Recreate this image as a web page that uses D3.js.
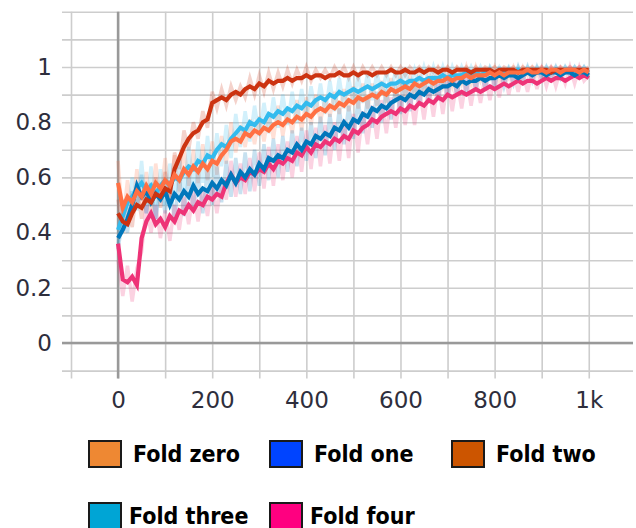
<!DOCTYPE html>
<html>
<head>
<meta charset="utf-8">
<script src="https://cdn.jsdelivr.net/npm/d3@7"></script>
<style>
  body { margin: 0; background: #fff; }
  svg { display: block; }
  .labels text { font-family: "DejaVu Sans", sans-serif; font-size: 23px; fill: #2e2e3c; }
  .legend text { font-family: "DejaVu Sans Condensed", "DejaVu Sans", sans-serif; font-stretch: condensed; font-weight: bold; font-size: 23px; fill: #000; }
</style>
</head>
<body>
<div id="container"></div>
<script>
// pasos de entrenamiento (cada 10)
const steps = d3.range(0, 1001, 10);

const xTicks = [0, 200, 400, 600, 800, 1000];
const yTicks = [0, 0.2, 0.4, 0.6, 0.8, 1];

const foldNames = ["Fold zero", "Fold one", "Fold two", "Fold three", "Fold four"];
const lineColors = ["#ff7043", "#0077bb", "#cc3311", "#33bbee", "#ee3377"];
const swatchColors = ["#ee8833", "#0044ff", "#cc5500", "#00a5d5", "#ff0080"];

// curvas suavizadas
const zeroSmooth = [
  0.58, 0.49, 0.53, 0.51, 0.55, 0.53, 0.57, 0.54, 0.58, 0.56,
  0.59, 0.57, 0.61, 0.59, 0.63, 0.61, 0.64, 0.62, 0.65, 0.63,
  0.66, 0.65, 0.68, 0.70, 0.73, 0.74, 0.73, 0.76, 0.75, 0.77,
  0.76, 0.78, 0.77, 0.79, 0.80, 0.79, 0.81, 0.80, 0.82, 0.81,
  0.83, 0.82, 0.84, 0.85, 0.84, 0.86, 0.85, 0.87, 0.86, 0.88,
  0.87, 0.89, 0.88, 0.89, 0.90, 0.89, 0.91, 0.90, 0.92, 0.91,
  0.92, 0.93, 0.92, 0.94, 0.93, 0.94, 0.95, 0.94, 0.95, 0.95,
  0.96, 0.95, 0.96, 0.96, 0.97, 0.96, 0.97, 0.97, 0.97, 0.98,
  0.97, 0.98, 0.97, 0.98, 0.98, 0.98, 0.98, 0.99, 0.98, 0.98,
  0.99, 0.98, 0.99, 0.99, 0.98, 0.99, 0.99, 0.99, 0.98, 0.99,
  0.98
];
const oneSmooth = [
  0.38, 0.41, 0.45, 0.50, 0.57, 0.53, 0.55, 0.51, 0.54, 0.52,
  0.55, 0.50, 0.54, 0.52, 0.55, 0.53, 0.57, 0.54, 0.56, 0.55,
  0.58, 0.56, 0.59, 0.57, 0.61, 0.58, 0.62, 0.60, 0.63, 0.61,
  0.65, 0.63, 0.67, 0.66, 0.68, 0.67, 0.70, 0.69, 0.72, 0.70,
  0.73, 0.72, 0.75, 0.74, 0.76, 0.75, 0.78, 0.77, 0.80, 0.78,
  0.81, 0.80, 0.83, 0.82, 0.85, 0.84, 0.86, 0.85, 0.87, 0.88,
  0.89, 0.88, 0.90, 0.89, 0.91, 0.90, 0.92, 0.91, 0.92, 0.93,
  0.93, 0.94, 0.93, 0.95, 0.94, 0.95, 0.95, 0.96, 0.95, 0.96,
  0.96, 0.97, 0.96, 0.97, 0.97, 0.96, 0.97, 0.98, 0.97, 0.98,
  0.98, 0.97, 0.98, 0.98, 0.97, 0.98, 0.98, 0.97, 0.98, 0.98,
  0.97
];
const twoSmooth = [
  0.47, 0.44, 0.43, 0.47, 0.50, 0.49, 0.52, 0.51, 0.54, 0.53,
  0.56, 0.55, 0.63, 0.67, 0.71, 0.74, 0.76, 0.77, 0.80, 0.81,
  0.87, 0.88, 0.89, 0.88, 0.90, 0.91, 0.90, 0.92, 0.93, 0.92,
  0.94, 0.93, 0.95, 0.94, 0.95, 0.95, 0.96, 0.95, 0.96, 0.96,
  0.97, 0.96, 0.97, 0.97, 0.96, 0.97, 0.97, 0.98, 0.97, 0.97,
  0.98, 0.97, 0.98, 0.98, 0.97, 0.98, 0.98, 0.98, 0.99, 0.98,
  0.98, 0.99, 0.98, 0.98, 0.99, 0.98, 0.99, 0.99, 0.98, 0.99,
  0.99, 0.98, 0.99, 0.99, 0.99, 0.98, 0.99, 0.99, 0.99, 0.99,
  0.98, 0.99, 0.99, 0.99, 0.99, 0.98, 0.99, 0.99, 0.99, 0.99,
  0.99, 0.99, 0.98, 0.99, 0.99, 0.99, 0.99, 0.99, 0.99, 0.99,
  0.99
];
const threeSmooth = [
  0.41, 0.46, 0.51, 0.53, 0.56, 0.58, 0.55, 0.57, 0.54, 0.57,
  0.59, 0.57, 0.60, 0.59, 0.62, 0.64, 0.63, 0.66, 0.65, 0.68,
  0.67, 0.70, 0.72, 0.71, 0.74, 0.76, 0.78, 0.77, 0.80, 0.79,
  0.81, 0.80, 0.83, 0.82, 0.84, 0.83, 0.85, 0.84, 0.86, 0.85,
  0.87, 0.86, 0.88, 0.89, 0.88, 0.90, 0.89, 0.91, 0.90, 0.91,
  0.92, 0.91, 0.92, 0.93, 0.92, 0.93, 0.94, 0.93, 0.94, 0.94,
  0.95, 0.94, 0.95, 0.95, 0.96, 0.95, 0.96, 0.96, 0.96, 0.97,
  0.96, 0.97, 0.97, 0.97, 0.98, 0.97, 0.98, 0.97, 0.98, 0.98,
  0.98, 0.97, 0.98, 0.98, 0.98, 0.99, 0.98, 0.98, 0.99, 0.98,
  0.99, 0.98, 0.98, 0.99, 0.98, 0.99, 0.99, 0.98, 0.99, 0.99,
  0.98
];
const fourSmooth = [
  0.36, 0.23, 0.22, 0.24, 0.21, 0.38, 0.44, 0.47, 0.43, 0.45,
  0.42, 0.46, 0.44, 0.48, 0.47, 0.50, 0.48, 0.51, 0.50, 0.53,
  0.52, 0.54, 0.53, 0.58, 0.61, 0.58, 0.60, 0.59, 0.62, 0.61,
  0.63, 0.62, 0.65, 0.63, 0.66, 0.65, 0.67, 0.66, 0.69, 0.68,
  0.71, 0.69, 0.72, 0.71, 0.73, 0.72, 0.74, 0.73, 0.75, 0.74,
  0.77, 0.76, 0.78, 0.79, 0.81, 0.80, 0.82, 0.83, 0.84, 0.83,
  0.85, 0.84, 0.86, 0.85, 0.87, 0.86, 0.88, 0.87, 0.89, 0.88,
  0.90, 0.89, 0.90, 0.91, 0.90, 0.91, 0.92, 0.91, 0.92, 0.93,
  0.92, 0.93, 0.94, 0.93, 0.94, 0.95, 0.94, 0.95, 0.95, 0.94,
  0.95, 0.96, 0.95, 0.96, 0.96, 0.95, 0.96, 0.97, 0.96, 0.97,
  0.96
];

// valores crudos (trazo tenue)
const zeroRaw = [
  0.66, 0.44, 0.59, 0.47, 0.63, 0.49, 0.62, 0.50, 0.65, 0.52,
  0.67, 0.53, 0.68, 0.55, 0.71, 0.57, 0.70, 0.58, 0.72, 0.59,
  0.73, 0.61, 0.75, 0.65, 0.80, 0.69, 0.79, 0.71, 0.81, 0.72,
  0.82, 0.73, 0.83, 0.74, 0.86, 0.75, 0.85, 0.76, 0.88, 0.77,
  0.89, 0.79, 0.90, 0.80, 0.89, 0.82, 0.91, 0.83, 0.92, 0.84,
  0.93, 0.85, 0.94, 0.85, 0.94, 0.86, 0.95, 0.87, 0.96, 0.88,
  0.97, 0.89, 0.97, 0.90, 0.98, 0.91, 0.98, 0.92, 0.99, 0.93,
  0.99, 0.93, 0.99, 0.94, 1.00, 0.94, 1.00, 0.95, 0.99, 0.96,
  1.00, 0.95, 0.99, 0.96, 1.00, 0.96, 1.00, 0.97, 1.00, 0.97,
  1.00, 0.97, 1.00, 0.97, 1.00, 0.98, 1.00, 0.98, 1.00, 0.98,
  0.99
];
const oneRaw = [
  0.34, 0.45, 0.40, 0.55, 0.49, 0.61, 0.47, 0.58, 0.45, 0.57,
  0.47, 0.59, 0.44, 0.60, 0.46, 0.61, 0.48, 0.62, 0.47, 0.63,
  0.50, 0.64, 0.51, 0.66, 0.53, 0.67, 0.54, 0.69, 0.55, 0.70,
  0.57, 0.72, 0.59, 0.74, 0.60, 0.75, 0.62, 0.77, 0.64, 0.78,
  0.66, 0.80, 0.67, 0.82, 0.68, 0.83, 0.70, 0.85, 0.72, 0.86,
  0.74, 0.88, 0.76, 0.89, 0.78, 0.91, 0.80, 0.92, 0.81, 0.93,
  0.83, 0.95, 0.84, 0.95, 0.86, 0.96, 0.87, 0.97, 0.88, 0.97,
  0.89, 0.98, 0.90, 0.98, 0.91, 0.99, 0.92, 0.99, 0.92, 0.99,
  0.93, 1.00, 0.93, 0.99, 0.94, 1.00, 0.95, 1.00, 0.95, 1.00,
  0.96, 1.00, 0.96, 1.00, 0.96, 1.00, 0.97, 1.00, 0.97, 1.00,
  0.97
];
const twoRaw = [
  0.52, 0.40, 0.49, 0.42, 0.56, 0.45, 0.58, 0.47, 0.60, 0.49,
  0.62, 0.51, 0.69, 0.63, 0.77, 0.70, 0.80, 0.74, 0.84, 0.78,
  0.91, 0.85, 0.92, 0.86, 0.93, 0.88, 0.93, 0.89, 0.96, 0.90,
  0.97, 0.91, 0.98, 0.92, 0.98, 0.93, 0.99, 0.94, 0.99, 0.95,
  1.00, 0.95, 0.99, 0.96, 0.99, 0.96, 1.00, 0.97, 1.00, 0.96,
  1.00, 0.96, 1.00, 0.97, 1.00, 0.97, 1.00, 0.97, 1.00, 0.97,
  1.00, 0.97, 1.00, 0.98, 1.00, 0.98, 1.00, 0.98, 1.00, 0.98,
  1.00, 0.98, 1.00, 0.98, 1.00, 0.98, 1.00, 0.98, 1.00, 0.99,
  1.00, 0.98, 1.00, 0.99, 1.00, 0.98, 1.00, 0.99, 1.00, 0.99,
  1.00, 0.99, 1.00, 0.99, 1.00, 0.99, 1.00, 0.99, 1.00, 0.99,
  1.00
];
const threeRaw = [
  0.36, 0.52, 0.44, 0.60, 0.48, 0.66, 0.47, 0.64, 0.45, 0.63,
  0.50, 0.65, 0.52, 0.67, 0.54, 0.71, 0.56, 0.73, 0.58, 0.75,
  0.60, 0.76, 0.64, 0.79, 0.67, 0.83, 0.71, 0.84, 0.73, 0.86,
  0.75, 0.87, 0.76, 0.89, 0.78, 0.90, 0.79, 0.91, 0.80, 0.92,
  0.82, 0.93, 0.83, 0.94, 0.83, 0.95, 0.84, 0.96, 0.85, 0.96,
  0.87, 0.97, 0.87, 0.98, 0.88, 0.98, 0.90, 0.98, 0.91, 0.99,
  0.92, 0.99, 0.92, 0.99, 0.93, 1.00, 0.94, 1.00, 0.94, 1.00,
  0.94, 1.00, 0.95, 1.00, 0.96, 1.00, 0.96, 1.00, 0.96, 1.00,
  0.97, 1.00, 0.97, 1.00, 0.97, 1.00, 0.97, 1.00, 0.98, 1.00,
  0.98, 1.00, 0.98, 1.00, 0.98, 1.00, 0.98, 1.00, 0.98, 1.00,
  0.98
];
const fourRaw = [
  0.30, 0.17, 0.28, 0.15, 0.27, 0.33, 0.50, 0.40, 0.50, 0.38,
  0.48, 0.37, 0.50, 0.41, 0.53, 0.43, 0.55, 0.44, 0.56, 0.46,
  0.58, 0.47, 0.59, 0.52, 0.66, 0.53, 0.65, 0.54, 0.67, 0.55,
  0.69, 0.56, 0.71, 0.57, 0.72, 0.59, 0.73, 0.60, 0.75, 0.62,
  0.77, 0.63, 0.78, 0.64, 0.79, 0.65, 0.80, 0.66, 0.81, 0.67,
  0.83, 0.69, 0.84, 0.72, 0.86, 0.74, 0.88, 0.76, 0.89, 0.78,
  0.90, 0.79, 0.91, 0.79, 0.92, 0.81, 0.93, 0.82, 0.94, 0.83,
  0.95, 0.84, 0.95, 0.85, 0.96, 0.86, 0.96, 0.87, 0.97, 0.88,
  0.97, 0.89, 0.98, 0.90, 0.98, 0.91, 0.98, 0.91, 0.99, 0.92,
  0.99, 0.93, 0.99, 0.93, 0.99, 0.94, 1.00, 0.94, 1.00, 0.95,
  0.97
];

const smoothed = [zeroSmooth, oneSmooth, twoSmooth, threeSmooth, fourSmooth];
const raws = [zeroRaw, oneRaw, twoRaw, threeRaw, fourRaw];

// Medidas
const WIDTH = 636, HEIGHT = 528;
const plot = { left: 71, right: 633, top: 11.8, bottom: 370.6 };
const tickOut = 8;

const svg = d3.select("#container").append("svg")
  .attr("width", WIDTH).attr("height", HEIGHT);

const x = d3.scaleLinear().domain([-100, 1094]).range([plot.left, plot.right]);
const y = d3.scaleLinear().domain([-0.1, 1.2]).range([plot.bottom, plot.top]);

// Grilla
const gridColor = "#cdcdcd";
svg.append("g")
  .attr("transform", `translate(${plot.right},0)`)
  .call(d3.axisLeft(y)
    .tickValues(d3.range(-1, 13).map(i => i / 10))
    .tickSize(plot.right - plot.left + tickOut + 1)
    .tickFormat(""))
  .call(g => g.select(".domain").remove())
  .call(g => g.selectAll("line").attr("stroke", gridColor).attr("stroke-width", 1.6));

svg.append("g")
  .attr("transform", `translate(0,${plot.top})`)
  .call(d3.axisBottom(x)
    .tickValues(d3.range(-100, 1001, 100))
    .tickSize(plot.bottom - plot.top + tickOut)
    .tickFormat(""))
  .call(g => g.select(".domain").remove())
  .call(g => g.selectAll("line").attr("stroke", gridColor).attr("stroke-width", 1.6));

// ejes en cero
svg.append("line")
  .attr("x1", plot.left - tickOut - 1).attr("x2", plot.right)
  .attr("y1", y(0)).attr("y2", y(0))
  .attr("stroke", "#999").attr("stroke-width", 2.5);
svg.append("line")
  .attr("x1", x(0)).attr("x2", x(0))
  .attr("y1", plot.top).attr("y2", plot.bottom + tickOut)
  .attr("stroke", "#999").attr("stroke-width", 2.5);

// Etiquetas
svg.append("g").attr("class", "labels")
  .attr("transform", `translate(${plot.left},0)`)
  .call(d3.axisLeft(y).tickValues(yTicks).tickSize(0).tickPadding(19).tickFormat(d3.format("~g")))
  .call(g => g.select(".domain").remove())
  .call(g => g.selectAll("text").attr("fill", null));

svg.append("g").attr("class", "labels")
  .attr("transform", `translate(0,${plot.bottom})`)
  .call(d3.axisBottom(x).tickValues(xTicks).tickSize(0).tickPadding(21)
    .tickFormat(d => d === 1000 ? "1k" : d))
  .call(g => g.select(".domain").remove())
  .call(g => g.selectAll("text").attr("fill", null));

// Lineas
svg.append("clipPath").attr("id", "clip")
  .append("rect")
  .attr("x", plot.left).attr("y", plot.top)
  .attr("width", plot.right - plot.left).attr("height", plot.bottom - plot.top);

const line = d3.line()
  .x((d, i) => x(steps[i]))
  .y(d => y(d));

const lines = svg.append("g").attr("clip-path", "url(#clip)");

raws.forEach((data, k) => {
  lines.append("path")
    .attr("d", line(data))
    .attr("fill", "none")
    .attr("stroke", lineColors[k])
    .attr("stroke-opacity", 0.22)
    .attr("stroke-width", 3.5)
    .attr("stroke-linejoin", "miter");
});

const drawOrder = [3, 4, 1, 2, 0];
drawOrder.forEach(k => {
  lines.append("path")
    .attr("d", line(smoothed[k]))
    .attr("fill", "none")
    .attr("stroke", lineColors[k])
    .attr("stroke-width", 4.2)
    .attr("stroke-linejoin", "miter");
});

// Leyenda
const legendX = [89, 270, 452];
const legendY = [441, 503];
const legend = svg.append("g").attr("class", "legend");
foldNames.forEach((name, k) => {
  const col = k % 3, row = Math.floor(k / 3);
  const g = legend.append("g")
    .attr("transform", `translate(${legendX[col]},${legendY[row]})`);
  g.append("rect")
    .attr("width", 32).attr("height", 26)
    .attr("fill", swatchColors[k])
    .attr("stroke", "#1a1a1a").attr("stroke-width", 2);
  g.append("text")
    .attr("x", row === 0 ? 44 : 40)
    .attr("y", 21)
    .text(name);
});
</script>
</body>
</html>
